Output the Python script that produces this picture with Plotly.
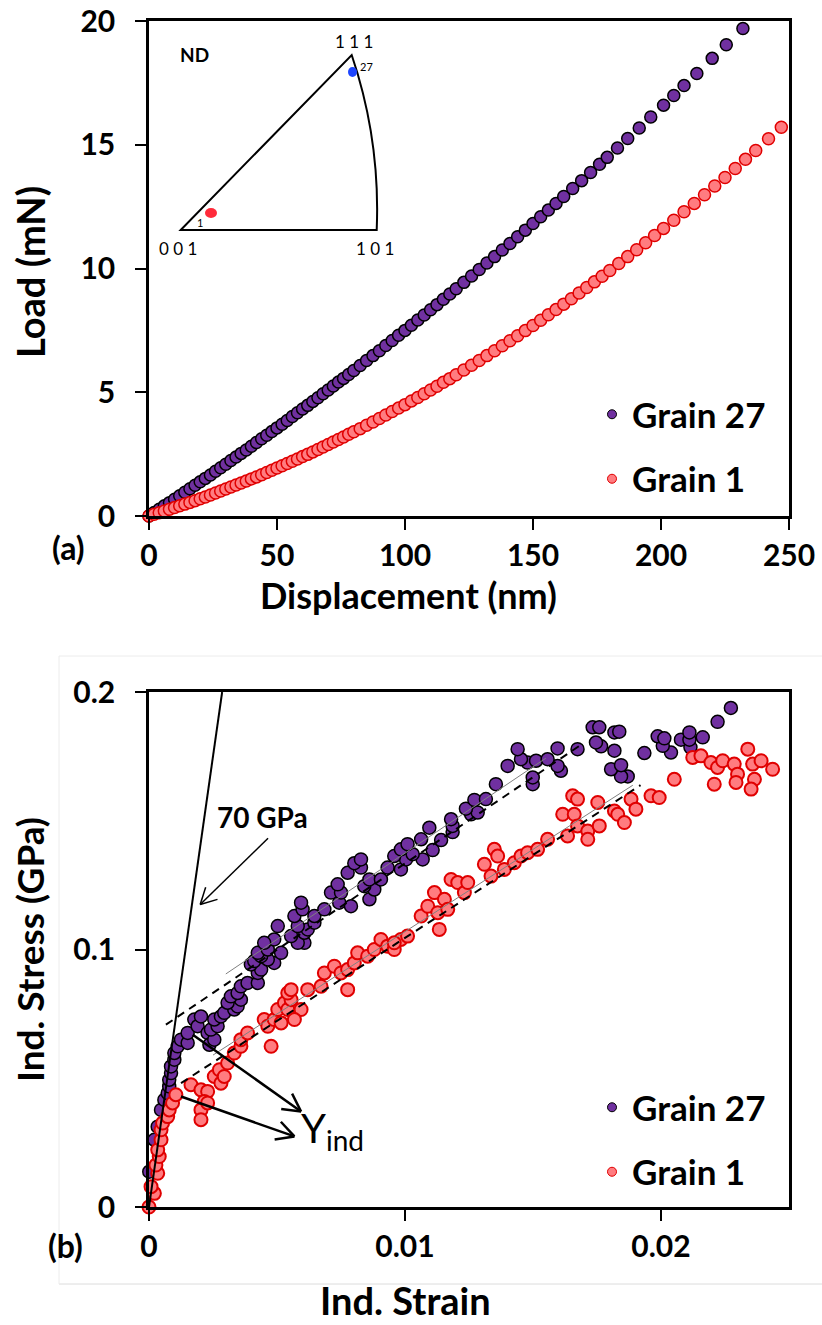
import math
import plotly.graph_objects as go

# ---------------- data: panel (a) load vs displacement ----------------
g27_disp = [0, 2, 4, 6, 8, 10, 12, 14, 16, 18, 20, 22, 24, 26, 28, 30, 32, 34, 36, 38,
            40, 42, 44, 46, 48, 50, 52, 54, 56, 58, 60, 62, 64, 66, 68, 70, 72, 74, 76, 78, 80,
            82.5, 85, 87.5, 90, 92.5, 95, 97.5, 100, 102.5, 105, 107.5, 110, 112.5, 115, 117.5, 120,
            123, 126, 129, 132, 135, 138, 141, 144, 147, 150, 153, 156, 159, 162,
            165.5, 169, 172.5, 176, 179, 183, 187, 191.5, 196, 201, 205, 209, 214, 220, 225.5, 232]
g27_load = [0, 0.14, 0.27, 0.41, 0.54, 0.68, 0.82, 0.96, 1.10, 1.24, 1.38, 1.52, 1.66, 1.81, 1.95,
            2.09, 2.24, 2.38, 2.53, 2.67, 2.82, 2.97, 3.12, 3.26, 3.41, 3.56, 3.71, 3.86, 4.02, 4.17,
            4.32, 4.47, 4.63, 4.78, 4.94, 5.09, 5.25, 5.41, 5.56, 5.72, 5.88,
            6.08, 6.28, 6.48, 6.68, 6.89, 7.09, 7.30, 7.50, 7.71, 7.92, 8.12, 8.33, 8.54, 8.76, 8.97, 9.18,
            9.44, 9.70, 9.96, 10.22, 10.48, 10.75, 11.01, 11.28, 11.55, 11.82, 12.09, 12.36, 12.63, 12.91,
            13.23, 13.55, 13.88, 14.21, 14.49, 14.87, 15.25, 15.68, 16.12, 16.60, 16.99, 17.39, 17.88,
            18.49, 19.04, 19.70]

g1_disp = [0, 2, 4, 6, 8, 10, 12, 14, 16, 18, 20, 22, 24, 26, 28, 30, 32, 34, 36, 38,
           40, 42, 44, 46, 48, 50, 52, 54, 56, 58, 60, 62, 64, 66, 68, 70, 72, 74, 76, 78, 80,
           82.5, 85, 87.5, 90, 92.5, 95, 97.5, 100, 102.5, 105, 107.5, 110, 112.5, 115, 117.5, 120,
           123, 126, 129, 132, 135, 138, 141, 144, 147, 150, 153, 156, 159, 162, 165, 168, 171, 174, 177, 180,
           183.5, 187, 190.5, 194, 197.5, 201, 205, 209, 213, 217, 221, 225, 229, 233, 237, 242, 247]
g1_load = [0, 0.07, 0.13, 0.20, 0.27, 0.34, 0.41, 0.48, 0.55, 0.62, 0.70, 0.77, 0.85, 0.93, 1.01,
           1.09, 1.17, 1.25, 1.33, 1.41, 1.50, 1.58, 1.67, 1.76, 1.85, 1.94, 2.03, 2.12, 2.21, 2.30,
           2.40, 2.49, 2.59, 2.69, 2.79, 2.89, 2.99, 3.09, 3.19, 3.30, 3.40,
           3.53, 3.67, 3.80, 3.94, 4.08, 4.22, 4.36, 4.50, 4.65, 4.79, 4.94, 5.09, 5.24, 5.40, 5.55, 5.71,
           5.90, 6.09, 6.28, 6.48, 6.68, 6.88, 7.08, 7.28, 7.49, 7.70, 7.91, 8.13, 8.34, 8.56, 8.78,
           9.01, 9.23, 9.46, 9.69, 9.92,
           10.20, 10.48, 10.76, 11.04, 11.33, 11.62, 11.95, 12.29, 12.63, 12.98, 13.33, 13.68, 14.04,
           14.41, 14.77, 15.24, 15.71]

# ---------------- data: panel (b) indentation stress vs strain ----------------
g27_strain = [0.00001, 0.00021, 0.00034, 0.00047, 0.00060, 0.00073, 0.00079, 0.00079, 0.00086, 0.00086,
              0.00099, 0.00099, 0.00112, 0.00125, 0.00151, 0.00151, 0.00177, 0.00190, 0.00203, 0.00229,
              0.00236, 0.00255, 0.00242, 0.00268, 0.00255, 0.00281, 0.00294, 0.00333, 0.00346, 0.00307,
              0.00359, 0.00320, 0.00346, 0.00359, 0.00385, 0.00425, 0.00425, 0.00438, 0.00398, 0.00489,
              0.00411, 0.00464, 0.00438, 0.00516, 0.00425, 0.00464, 0.00489, 0.00450, 0.00607, 0.00581,
              0.00555, 0.00607, 0.00620, 0.00503, 0.00581, 0.00646, 0.00646, 0.00568, 0.00685, 0.00600,
              0.00594, 0.00743, 0.00789, 0.00861, 0.00711, 0.00750, 0.00880, 0.00841, 0.00737, 0.00861,
              0.00906, 0.00776, 0.00932, 0.00828, 0.00984, 0.00802, 0.00828, 0.01004, 0.01069, 0.00958,
              0.01030, 0.01108, 0.00984, 0.01010, 0.01063, 0.01141, 0.01186, 0.01095, 0.01186, 0.01180,
              0.01258, 0.01284, 0.01238, 0.01271, 0.01316, 0.01355, 0.01499, 0.01499, 0.01609, 0.01401,
              0.01596, 0.01479, 0.01512, 0.01453, 0.01557, 0.01440, 0.01596, 0.01674, 0.01870, 0.01844,
              0.01805, 0.01844, 0.01818, 0.01766, 0.01746, 0.01733, 0.01759, 0.01818, 0.01837, 0.01935,
              0.02039, 0.02007, 0.02115, 0.02078, 0.02111, 0.01987, 0.02013, 0.02111, 0.02163, 0.02221,
              0.02273]
g27_stress = [0.0137, 0.0261, 0.0312, 0.0377, 0.0416, 0.0442, 0.0468, 0.0494, 0.0520, 0.0546,
              0.0572, 0.0598, 0.0624, 0.0650, 0.0637, 0.0676, 0.0728, 0.0702, 0.0740, 0.0676,
              0.0630, 0.0650, 0.0689, 0.0702, 0.0728, 0.0740, 0.0754, 0.0767, 0.0779, 0.0793,
              0.0805, 0.0818, 0.0831, 0.0857, 0.0870, 0.0870, 0.0909, 0.0922, 0.0942, 0.0948,
              0.0955, 0.0961, 0.0974, 0.0987, 0.0987, 0.1000, 0.1039, 0.1026, 0.1026, 0.1026,
              0.1052, 0.1065, 0.1078, 0.1091, 0.1091, 0.1104, 0.1130, 0.1130, 0.1156, 0.1156,
              0.1182, 0.1182, 0.1168, 0.1195, 0.1221, 0.1221, 0.1233, 0.1246, 0.1253, 0.1272,
              0.1272, 0.1298, 0.1318, 0.1318, 0.1311, 0.1335, 0.1350, 0.1350, 0.1350, 0.1363,
              0.1370, 0.1386, 0.1389, 0.1409, 0.1428, 0.1425, 0.1456, 0.1473, 0.1480, 0.1506,
              0.1525, 0.1532, 0.1547, 0.1581, 0.1584, 0.1642, 0.1642, 0.1668, 0.1694, 0.1713,
              0.1713, 0.1726, 0.1733, 0.1739, 0.1739, 0.1778, 0.1781, 0.1778, 0.1672, 0.1672,
              0.1700, 0.1716, 0.1772, 0.1789, 0.1804, 0.1863, 0.1863, 0.1843, 0.1846, 0.1763,
              0.1765, 0.1791, 0.1785, 0.1815, 0.1815, 0.1828, 0.1820, 0.1843, 0.1824, 0.1884,
              0.1938]

g1_strain = [0.00000, 0.00021, 0.00008, 0.00034, 0.00027, 0.00040, 0.00034, 0.00047, 0.00047, 0.00053,
             0.00073, 0.00079, 0.00092, 0.00105, 0.00164, 0.00203, 0.00229, 0.00216, 0.00203, 0.00203,
             0.00229, 0.00255, 0.00275, 0.00281, 0.00294, 0.00307, 0.00333, 0.00359, 0.00359, 0.00385,
             0.00450, 0.00477, 0.00464, 0.00489, 0.00516, 0.00503, 0.00529, 0.00542, 0.00555, 0.00594,
             0.00568, 0.00542, 0.00555, 0.00620, 0.00672, 0.00685, 0.00724, 0.00750, 0.00776, 0.00776,
             0.00802, 0.00815, 0.00854, 0.00880, 0.00906, 0.00932, 0.00958, 0.00984, 0.00958, 0.01010,
             0.01063, 0.01089, 0.01115, 0.01128, 0.01134, 0.01154, 0.01167, 0.01180, 0.01206, 0.01232,
             0.01245, 0.01310, 0.01349, 0.01336, 0.01362, 0.01388, 0.01427, 0.01453, 0.01479, 0.01518,
             0.01557, 0.01616, 0.01661, 0.01655, 0.01674, 0.01635, 0.01674, 0.01714, 0.01714, 0.01759,
             0.01753, 0.01818, 0.01831, 0.01857, 0.01883, 0.01902, 0.01961, 0.01993, 0.02052, 0.02124,
             0.02156, 0.02195, 0.02221, 0.02241, 0.02286, 0.02299, 0.02293, 0.02208, 0.02339, 0.02358,
             0.02391, 0.02436, 0.02365, 0.02352]
g1_stress = [0.0000, 0.0053, 0.0079, 0.0131, 0.0163, 0.0196, 0.0222, 0.0261, 0.0300, 0.0326,
             0.0351, 0.0377, 0.0404, 0.0436, 0.0475, 0.0455, 0.0449, 0.0410, 0.0377, 0.0339,
             0.0404, 0.0507, 0.0533, 0.0481, 0.0507, 0.0559, 0.0598, 0.0624, 0.0650, 0.0676,
             0.0728, 0.0624, 0.0702, 0.0728, 0.0715, 0.0767, 0.0793, 0.0767, 0.0805, 0.0767,
             0.0728, 0.0831, 0.0844, 0.0844, 0.0857, 0.0909, 0.0935, 0.0909, 0.0922, 0.0844,
             0.0948, 0.0987, 0.0974, 0.1000, 0.1039, 0.1013, 0.1000, 0.1039, 0.1026, 0.1052,
             0.1130, 0.1168, 0.1221, 0.1143, 0.1078, 0.1195, 0.1156, 0.1272, 0.1260, 0.1221,
             0.1260, 0.1331, 0.1389, 0.1285, 0.1363, 0.1311, 0.1337, 0.1363, 0.1376, 0.1389,
             0.1428, 0.1525, 0.1525, 0.1597, 0.1584, 0.1441, 0.1480, 0.1460, 0.1428, 0.1480,
             0.1571, 0.1538, 0.1525, 0.1493, 0.1584, 0.1545, 0.1597, 0.1590, 0.1661, 0.1746,
             0.1752, 0.1726, 0.1707, 0.1733, 0.1720, 0.1681, 0.1649, 0.1642, 0.1778, 0.1720,
             0.1733, 0.1700, 0.1661, 0.1623]

# guide lines in panel (b)
elastic_strain = [0.0, 0.002857]          # 70 GPa elastic line
elastic_stress = [0.0, 0.2]
g27_fit_strain = [0.00066, 0.0168]         # dashed fit, grain 27
g27_fit_stress = [0.0708, 0.1790]
g27_trend_strain = [0.0030, 0.0155]        # thin grey trend, grain 27
g27_trend_stress = [0.0905, 0.1743]
g1_fit_strain = [0.00125, 0.0192]          # dashed fit, grain 1
g1_fit_stress = [0.0481, 0.1638]
g1_trend_strain = [0.0025, 0.0189]         # thin grey trend, grain 1
g1_trend_stress = [0.0590, 0.1638]

# ticks
a_xticks = [0, 50, 100, 150, 200, 250]
a_yticks = [0, 5, 10, 15, 20]
b_xticks = [0, 0.01, 0.02]
b_xticklabels = ["0", "0.01", "0.02"]
b_yticks = [0, 0.1, 0.2]
b_yticklabels = ["0", "0.1", "0.2"]
series_names = ["Grain 27", "Grain 1"]

# ---------------- styling / layout ----------------
W, H = 822, 1325
FONT = "Lato"
PURPLE = "#7030A0"
RED_FILL = "#FF7C80"
RED_LINE = "#E00000"

A_LEFT, A_RIGHT, A_TOP, A_BOT = 149, 789, 21, 516
B_TOP, B_BOT = 692, 1207
A_XR, A_YR = [0, 250], [0, 20]
B_XR, B_YR = [0, 0.025], [0, 0.2]


def fx(p):
    return p / W


def fy(p):
    return 1 - p / H


def b_to_px(x, y):
    return (A_LEFT + (x - B_XR[0]) / (B_XR[1] - B_XR[0]) * (A_RIGHT - A_LEFT),
            B_BOT - (y - B_YR[0]) / (B_YR[1] - B_YR[0]) * (B_BOT - B_TOP))


fig = go.Figure()

pm = dict(color=PURPLE, line=dict(color="black", width=1.5))
rm = dict(color=RED_FILL, line=dict(color=RED_LINE, width=1.5))

# panel (a)
fig.add_trace(go.Scatter(x=g27_disp, y=g27_load, mode="markers", xaxis="x", yaxis="y",
                         marker=dict(size=12, **pm), showlegend=False, cliponaxis=False))
fig.add_trace(go.Scatter(x=g1_disp, y=g1_load, mode="markers", xaxis="x", yaxis="y",
                         marker=dict(size=12, **rm), showlegend=False, cliponaxis=False))
# panel (b)
fig.add_trace(go.Scatter(x=g27_strain, y=g27_stress, mode="markers", xaxis="x2", yaxis="y2",
                         marker=dict(size=13, **pm), showlegend=False, cliponaxis=False))
fig.add_trace(go.Scatter(x=g1_strain, y=g1_stress, mode="markers", xaxis="x2", yaxis="y2",
                         marker=dict(size=13, color=RED_FILL, line=dict(color=RED_LINE, width=2)),
                         showlegend=False, cliponaxis=False))
for xs, ys, ln in [
    (elastic_strain, elastic_stress, dict(color="black", width=2)),
    (g27_trend_strain, g27_trend_stress, dict(color="#808080", width=1)),
    (g1_trend_strain, g1_trend_stress, dict(color="#808080", width=1)),
    (g27_fit_strain, g27_fit_stress, dict(color="black", width=2, dash="8px,6px")),
    (g1_fit_strain, g1_fit_stress, dict(color="black", width=2, dash="8px,6px")),
]:
    fig.add_trace(go.Scatter(x=xs, y=ys, mode="lines", xaxis="x2", yaxis="y2", line=ln,
                             showlegend=False, hoverinfo="skip"))

# legend entries (small markers as in the reference)
for lg, grp in [("legend", "a"), ("legend2", "b")]:
    fig.add_trace(go.Scatter(x=[None], y=[None], mode="markers", name=series_names[0], legend=lg,
                             legendgroup=grp + "27", marker=dict(size=9, color=PURPLE,
                                                                 line=dict(color="black", width=1))))
    fig.add_trace(go.Scatter(x=[None], y=[None], mode="markers", name=series_names[1], legend=lg,
                             legendgroup=grp + "1", marker=dict(size=9, color=RED_FILL,
                                                                line=dict(color=RED_LINE, width=1))))

tickfont = dict(family=FONT, size=30, color="black", weight="bold")
axis_style = dict(showline=True, linecolor="black", linewidth=2.5, mirror=True, ticks="outside",
                  ticklen=11, tickwidth=2, tickcolor="black", showgrid=False, zeroline=False,
                  tickfont=tickfont, fixedrange=True, automargin=False)

legfont = dict(family=FONT, size=35, color="black", weight="bold")
fig.update_layout(
    width=W, height=H, margin=dict(l=0, r=0, t=0, b=0, autoexpand=False),
    paper_bgcolor="white", plot_bgcolor="white",
    xaxis=dict(domain=[fx(A_LEFT), fx(A_RIGHT)], range=A_XR, anchor="y",
               tickmode="array", tickvals=a_xticks, **axis_style),
    yaxis=dict(domain=[fy(A_BOT), fy(A_TOP)], range=A_YR, anchor="x",
               tickmode="array", tickvals=a_yticks, ticklabelstandoff=14, **axis_style),
    xaxis2=dict(domain=[fx(A_LEFT), fx(A_RIGHT)], range=B_XR, anchor="y2",
                tickmode="array", tickvals=b_xticks, ticktext=b_xticklabels, **axis_style),
    yaxis2=dict(domain=[fy(B_BOT), fy(B_TOP)], range=B_YR, anchor="x2",
                tickmode="array", tickvals=b_yticks, ticktext=b_yticklabels, ticklabelstandoff=14,
                **axis_style),
    legend=dict(x=fx(592), y=fy(385), xanchor="left", yanchor="top", font=legfont,
                bgcolor="rgba(0,0,0,0)", tracegroupgap=16),
    legend2=dict(x=fx(592), y=fy(1078), xanchor="left", yanchor="top", font=legfont,
                 bgcolor="rgba(0,0,0,0)", tracegroupgap=16),
)

ann = []


def text(x, y, t, size, bold=True, angle=0, xanchor="center", color="black"):
    ann.append(dict(x=fx(x), y=fy(y), xref="paper", yref="paper", text=t, showarrow=False,
                    xanchor=xanchor, yanchor="middle", textangle=angle,
                    font=dict(family=FONT, size=size, color=color,
                              weight="bold" if bold else "normal")))


# axis titles and panel tags
text(408, 595, "Displacement (nm)", 36)
text(30, 272, "Load (mN)", 38, angle=-90)
text(405, 1300, "Ind. Strain", 38)
text(30, 950, "Ind. Stress (GPa)", 37, angle=-90)
text(68, 548, "(a)", 32)
text(65, 1245, "(b)", 32)
# panel (b) labels
text(262, 817, "70 GPa", 28)
text(299, 1130, "Y<sub>ind</sub>", 40, bold=False, xanchor="left")
# inset labels
text(194, 55, "ND", 19)
text(178, 248, "0 0 1", 17, bold=False)
text(375, 248, "1 0 1", 17, bold=False)
text(354, 42, "1 1 1", 17, bold=False)
text(200, 222, "1", 11, bold=False)
text(366, 67, "27", 11, bold=False)
fig.update_layout(annotations=ann)

shapes = []


def seg(p0, p1, width, color="black"):
    shapes.append(dict(type="line", xref="paper", yref="paper", x0=fx(p0[0]), y0=fy(p0[1]),
                       x1=fx(p1[0]), y1=fy(p1[1]), line=dict(color=color, width=width)))


def arrow(tail, tip, width, head=18, ang=28):
    t = b_to_px(*tail)
    h = b_to_px(*tip)
    seg(t, h, width)
    a = math.atan2(t[1] - h[1], t[0] - h[0])
    for s in (1, -1):
        b = a + s * math.radians(ang)
        seg(h, (h[0] + head * math.cos(b), h[1] + head * math.sin(b)), width)


# arrows in panel (b): annotation pointers (tail, tip) in data units
arrow((0.00465, 0.1432), (0.00200, 0.1175), 1.5, head=18)
arrow((0.00171, 0.0669), (0.00594, 0.0371), 2.5, head=20)
arrow((0.00125, 0.0429), (0.00568, 0.0274), 2.5, head=20)

# inverse pole figure inset (decorative, in page pixels)
v001, v111, v101 = (180.7, 230), (351.7, 55), (376.7, 230)
ctrl = (380.5, 140)
path = "M {} {} L {} {} Q {} {} {} {} Z".format(
    fx(v001[0]), fy(v001[1]), fx(v111[0]), fy(v111[1]), fx(ctrl[0]), fy(ctrl[1]),
    fx(v101[0]), fy(v101[1]))
shapes.append(dict(type="path", xref="paper", yref="paper", path=path,
                   line=dict(color="black", width=2), fillcolor="rgba(0,0,0,0)"))
shapes.append(dict(type="circle", xref="paper", yref="paper", x0=fx(205), x1=fx(217),
                   y0=fy(218), y1=fy(208), fillcolor="#FF2A3A", line=dict(width=0)))
shapes.append(dict(type="circle", xref="paper", yref="paper", x0=fx(348), x1=fx(357),
                   y0=fy(77), y1=fy(67), fillcolor="#1E46FF", line=dict(width=0)))
# faint frame around panel (b)
shapes.append(dict(type="line", xref="paper", yref="paper", x0=fx(59), x1=1, y0=fy(656), y1=fy(656),
                   line=dict(color="#ececec", width=1), layer="below"))
shapes.append(dict(type="line", xref="paper", yref="paper", x0=fx(59), x1=1, y0=fy(1284), y1=fy(1284),
                   line=dict(color="#dcdcdc", width=1), layer="below"))
shapes.append(dict(type="line", xref="paper", yref="paper", x0=fx(59), x1=fx(59), y0=fy(656), y1=fy(1284),
                   line=dict(color="#ececec", width=1), layer="below"))
fig.update_layout(shapes=shapes)

fig.write_html("out.html")
